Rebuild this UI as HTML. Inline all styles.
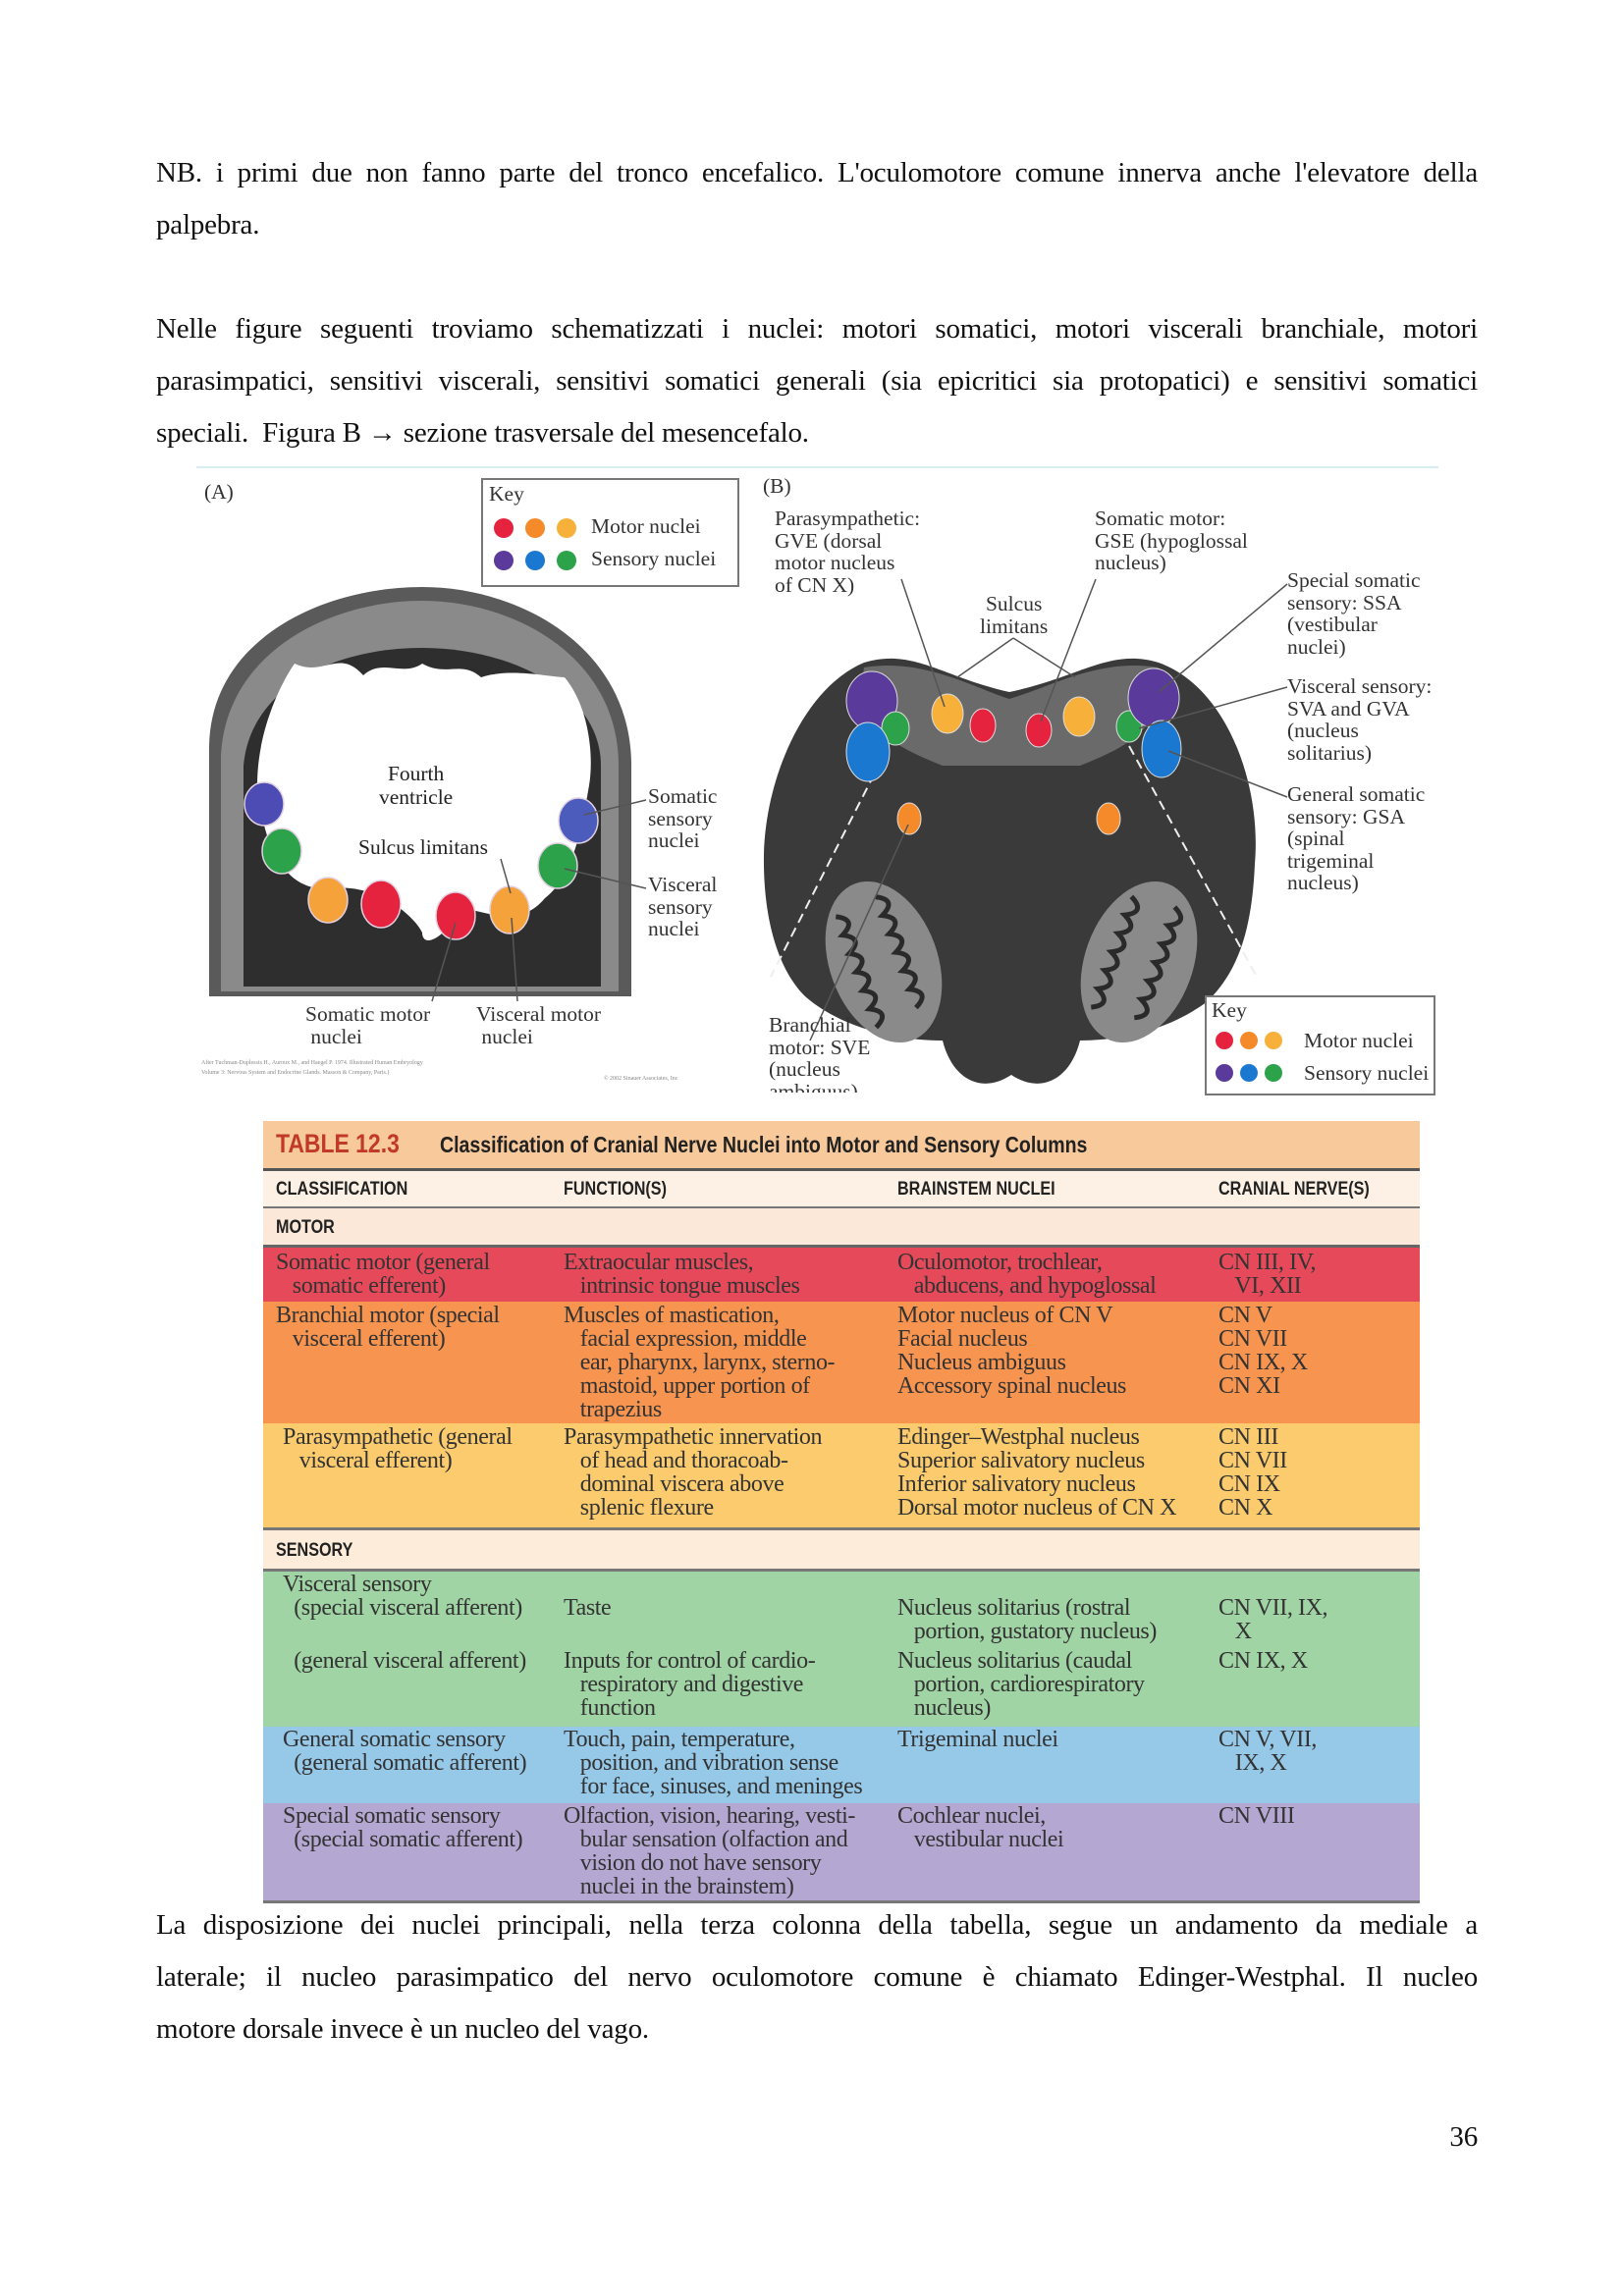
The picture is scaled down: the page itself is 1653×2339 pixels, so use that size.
<!DOCTYPE html>
<html><head><meta charset="utf-8"><style>
body{margin:0;background:#fff}
.pg{position:relative;width:1653px;height:2339px;background:#fff;font-family:"Liberation Serif",serif;color:#111}
.p{position:absolute;left:159px;width:1346px;font-size:29px;line-height:53px;text-align:justify;text-align-last:justify;letter-spacing:-0.2px}
.p.l{text-align-last:left}
.t{position:absolute;font-family:"Liberation Serif",serif;font-size:21.5px;line-height:22.5px;color:#333;white-space:nowrap}
.tb{position:absolute;left:268px;width:1178px}
.row{position:absolute;left:0;width:1178px}
.c{position:absolute;font-size:24px;line-height:24px;color:#333;white-space:pre;font-family:"Liberation Serif",serif;letter-spacing:-0.4px}
.h{position:absolute;font-family:"Liberation Sans",sans-serif;font-weight:bold;font-size:19px;color:#222;transform:scaleX(0.85);transform-origin:left}
</style></head><body><div class="pg">
<div class="p" style="top:150px">NB. i primi due non fanno parte del tronco encefalico. L'oculomotore comune innerva anche l'elevatore della</div>
<div class="p l" style="top:203px">palpebra.</div>
<div class="p" style="top:309px">Nelle figure seguenti troviamo schematizzati i nuclei: motori somatici, motori viscerali branchiale, motori</div>
<div class="p" style="top:362px">parasimpatici, sensitivi viscerali, sensitivi somatici generali (sia epicritici sia protopatici) e sensitivi somatici</div>
<div class="p l" style="top:415px">speciali.&nbsp; Figura B → sezione trasversale del mesencefalo.</div>

<svg style="position:absolute;left:0;top:0" width="1653" height="1140">
<line x1="200" y1="476" x2="1465" y2="476" stroke="#d8eeee" stroke-width="2"/>
<!-- Fig A -->
<path d="M213,1015 L213,760 C215,650 330,598 430,598 C530,598 643,660 643,780 L643,1015 Z" fill="#5a5a5a"/>
<path d="M225,1010 L225,770 C230,665 335,612 430,612 C525,612 630,670 630,780 L630,1010 Z" fill="#8a8a8a"/>
<path d="M248,1005 L248,780 C255,700 340,660 430,660 C520,660 612,705 612,780 L612,1005 Z" fill="#2e2e2e"/>
<path d="M262,800 C262,740 290,690 300,676 C330,690 345,660 370,688 C390,670 410,690 430,676 C455,690 470,672 490,690 C520,680 560,690 575,690 C600,720 605,770 600,800 C590,860 580,895 555,915 C530,945 500,930 470,925 C450,960 430,965 430,950 C420,930 380,900 340,905 C300,910 270,880 262,800 Z" fill="#fff"/>
<g stroke="#e0d0e0" stroke-width="1.5">
<ellipse cx="269" cy="819" rx="20" ry="22" fill="#4c4cb4"/>
<ellipse cx="287" cy="867" rx="20" ry="23" fill="#2ca24a"/>
<ellipse cx="334" cy="917" rx="20" ry="23" fill="#f5a23a"/>
<ellipse cx="388" cy="921" rx="20" ry="24" fill="#e6233f"/>
<ellipse cx="464" cy="933" rx="20" ry="24" fill="#e6233f"/>
<ellipse cx="519" cy="927" rx="20" ry="24" fill="#f5a23a"/>
<ellipse cx="568" cy="882" rx="20" ry="23" fill="#2ca24a"/>
<ellipse cx="589" cy="836" rx="20" ry="23" fill="#4c5cbc"/>
</g>
<g stroke="#555" stroke-width="1.5" fill="none">
<line x1="595" y1="830" x2="658" y2="815"/><line x1="575" y1="885" x2="658" y2="905"/>
<line x1="510" y1="875" x2="520" y2="910"/><line x1="440" y1="1020" x2="464" y2="940"/>
<line x1="527" y1="1020" x2="521" y2="935"/>
</g>
<rect x="491" y="488" width="261" height="109" fill="#fff" stroke="#777" stroke-width="2"/>
<g stroke="none">
<circle cx="513" cy="538" r="10" fill="#e6233f"/><circle cx="545" cy="538" r="10" fill="#f58a2a"/><circle cx="577" cy="538" r="10" fill="#f7b13a"/>
<circle cx="513" cy="571" r="10" fill="#5a3a9a"/><circle cx="545" cy="571" r="10" fill="#1a78d0"/><circle cx="577" cy="571" r="10" fill="#2ca24a"/>
</g>
<!-- Fig B -->
<path d="M880,675 C930,660 960,690 1028,705 C1100,690 1130,660 1180,675 C1250,700 1285,800 1278,880 C1275,950 1260,990 1230,1020 C1190,1050 1140,1060 1100,1060 C1090,1100 1060,1115 1030,1095 C1000,1115 970,1100 960,1060 C920,1060 860,1050 820,1015 C790,985 777,930 778,870 C780,790 820,700 880,675 Z" fill="#3a3a3a"/>
<path d="M880,680 C940,670 990,700 1028,712 C1070,700 1120,670 1180,680 C1190,740 1150,760 1100,780 L960,780 C910,760 870,740 880,680 Z" fill="#6a6a6a"/>
<g transform="rotate(-20 900 980)"><ellipse cx="900" cy="980" rx="55" ry="85" fill="#8a8a8a"/>
<g stroke="#2a2a2a" stroke-width="5" fill="none"><path d="M870,920 q20,10 0,20 q20,10 0,20 q20,10 0,20 q20,10 0,20 q20,10 0,20 q20,10 0,20"/><path d="M915,915 q20,10 0,20 q20,10 0,20 q20,10 0,20 q20,10 0,20 q20,10 0,20 q20,10 0,20"/></g></g>
<g transform="rotate(20 1160 980)"><ellipse cx="1160" cy="980" rx="55" ry="85" fill="#8a8a8a"/>
<g stroke="#2a2a2a" stroke-width="5" fill="none"><path d="M1130,920 q20,10 0,20 q20,10 0,20 q20,10 0,20 q20,10 0,20 q20,10 0,20 q20,10 0,20"/><path d="M1175,915 q20,10 0,20 q20,10 0,20 q20,10 0,20 q20,10 0,20 q20,10 0,20 q20,10 0,20"/></g></g>
<g stroke="#eee" stroke-width="2" stroke-dasharray="10,6" fill="none">
<line x1="905" y1="760" x2="785" y2="995"/><line x1="1150" y1="760" x2="1280" y2="995"/>
</g>
<g stroke="#ddd" stroke-width="1">
<ellipse cx="888" cy="714" rx="26" ry="30" fill="#5a3a9a"/>
<ellipse cx="912" cy="742" rx="14" ry="17" fill="#2ca24a"/>
<ellipse cx="884" cy="766" rx="22" ry="30" fill="#1a78d0"/>
<ellipse cx="965" cy="727" rx="16" ry="20" fill="#f7b13a"/>
<ellipse cx="1001" cy="739" rx="13" ry="17" fill="#e6233f"/>
<ellipse cx="1058" cy="744" rx="13" ry="17" fill="#e6233f"/>
<ellipse cx="1099" cy="730" rx="16" ry="20" fill="#f7b13a"/>
<ellipse cx="1150" cy="740" rx="13" ry="16" fill="#2ca24a"/>
<ellipse cx="1175" cy="711" rx="26" ry="30" fill="#5a3a9a"/>
<ellipse cx="1183" cy="763" rx="20" ry="29" fill="#1a78d0"/>
<ellipse cx="926" cy="834" rx="12" ry="16" fill="#f58a2a"/>
<ellipse cx="1129" cy="834" rx="12" ry="16" fill="#f58a2a"/>
</g>
<g stroke="#555" stroke-width="1.5" fill="none">
<line x1="918" y1="590" x2="962" y2="720"/><line x1="1116" y1="590" x2="1060" y2="735"/>
<line x1="1032" y1="650" x2="975" y2="690"/><line x1="1032" y1="650" x2="1095" y2="690"/>
<line x1="1311" y1="595" x2="1180" y2="705"/><line x1="1311" y1="700" x2="1160" y2="742"/>
<line x1="1311" y1="812" x2="1190" y2="765"/><line x1="825" y1="1060" x2="925" y2="840"/>
</g>
<rect x="1228" y="1015" width="233" height="100" fill="#fff" stroke="#777" stroke-width="2"/>
<circle cx="1247" cy="1060" r="9" fill="#e6233f"/><circle cx="1272" cy="1060" r="9" fill="#f58a2a"/><circle cx="1297" cy="1060" r="9" fill="#f7b13a"/>
<circle cx="1247" cy="1093" r="9" fill="#5a3a9a"/><circle cx="1272" cy="1093" r="9" fill="#1a78d0"/><circle cx="1297" cy="1093" r="9" fill="#2ca24a"/>
</svg>
<div class="t" style="left:208px;top:490px">(A)</div>
<div class="t" style="left:498px;top:492px">Key</div>
<div class="t" style="left:602px;top:525px">Motor nuclei</div>
<div class="t" style="left:602px;top:558px">Sensory nuclei</div>
<div class="t" style="left:386px;top:776px;line-height:24px;text-align:center;color:#222">Fourth<br>ventricle</div>
<div class="t" style="left:365px;top:852px;color:#222">Sulcus limitans</div>
<div class="t" style="left:660px;top:800px">Somatic<br>sensory<br>nuclei</div>
<div class="t" style="left:660px;top:890px">Visceral<br>sensory<br>nuclei</div>
<div class="t" style="left:311px;top:1022px">Somatic motor<br>&nbsp;nuclei</div>
<div class="t" style="left:485px;top:1022px">Visceral motor<br>&nbsp;nuclei</div>
<div class="t" style="left:205px;top:1078px;font-size:6px;line-height:10px;color:#888">After Tuchman-Duplessis H., Auroux M., and Haegel P. 1974. Illustrated Human Embryology<br>Volume 3: Nervous System and Endocrine Glands. Masson &amp; Company, Paris.)</div>
<div class="t" style="left:615px;top:1088px;font-size:6px;color:#888">© 2002 Sinauer Associates, Inc</div>
<div class="t" style="left:777px;top:484px">(B)</div>
<div class="t" style="left:789px;top:517px">Parasympathetic:<br>GVE (dorsal<br>motor nucleus<br>of CN X)</div>
<div class="t" style="left:1115px;top:517px">Somatic motor:<br>GSE (hypoglossal<br>nucleus)</div>
<div class="t" style="left:998px;top:604px;text-align:center">Sulcus<br>limitans</div>
<div class="t" style="left:1311px;top:580px">Special somatic<br>sensory: SSA<br>(vestibular<br>nuclei)</div>
<div class="t" style="left:1311px;top:688px">Visceral sensory:<br>SVA and GVA<br>(nucleus<br>solitarius)</div>
<div class="t" style="left:1311px;top:798px">General somatic<br>sensory: GSA<br>(spinal<br>trigeminal<br>nucleus)</div>
<div class="t" style="left:783px;top:1033px;height:80px;overflow:hidden">Branchial<br>motor: SVE<br>(nucleus<br>ambiguus)</div>
<div class="t" style="left:1234px;top:1018px">Key</div>
<div class="t" style="left:1328px;top:1049px">Motor nuclei</div>
<div class="t" style="left:1328px;top:1082px">Sensory nuclei</div>

<div class="tb" style="top:1142px;height:797px">
<div class="row" style="top:0;height:48px;background:#f8c99a;border-bottom:3px solid #555"></div>
<div class="h" style="left:13px;top:8px;font-size:27px;color:#c0392b">TABLE 12.3</div>
<div class="h" style="left:180px;top:11px;font-size:23px">Classification of Cranial Nerve Nuclei into Motor and Sensory Columns</div>
<div class="row" style="top:51px;height:36px;background:#fdf1e5;border-bottom:2px solid #777"></div>
<div class="h" style="left:13px;top:59px">CLASSIFICATION</div>
<div class="h" style="left:306px;top:59px">FUNCTION(S)</div>
<div class="h" style="left:646px;top:59px">BRAINSTEM NUCLEI</div>
<div class="h" style="left:973px;top:59px">CRANIAL NERVE(S)</div>
<div class="row" style="top:89px;height:37px;background:#fbe8d8;border-bottom:3px solid #666"></div>
<div class="h" style="left:13px;top:98px">MOTOR</div>
<div class="row" style="top:129px;height:55px;background:#e64a5a"></div>
<div class="c" style="left:13px;top:132px">Somatic motor (general
   somatic efferent)</div>
<div class="c" style="left:306px;top:132px">Extraocular muscles,
   intrinsic tongue muscles</div>
<div class="c" style="left:646px;top:132px">Oculomotor, trochlear,
   abducens, and hypoglossal</div>
<div class="c" style="left:973px;top:132px">CN III, IV,
   VI, XII</div>
<div class="row" style="top:184px;height:124px;background:#f7944f"></div>
<div class="c" style="left:13px;top:186px">Branchial motor (special
   visceral efferent)</div>
<div class="c" style="left:306px;top:186px">Muscles of mastication,
   facial expression, middle
   ear, pharynx, larynx, sterno-
   mastoid, upper portion of
   trapezius</div>
<div class="c" style="left:646px;top:186px">Motor nucleus of CN V
Facial nucleus
Nucleus ambiguus
Accessory spinal nucleus</div>
<div class="c" style="left:973px;top:186px">CN V
CN VII
CN IX, X
CN XI</div>
<div class="row" style="top:308px;height:106px;background:#fbcb6e;border-bottom:3px solid #777"></div>
<div class="c" style="left:20px;top:310px">Parasympathetic (general
   visceral efferent)</div>
<div class="c" style="left:306px;top:310px">Parasympathetic innervation
   of head and thoracoab-
   dominal viscera above
   splenic flexure</div>
<div class="c" style="left:646px;top:310px">Edinger–Westphal nucleus
Superior salivatory nucleus
Inferior salivatory nucleus
Dorsal motor nucleus of CN X</div>
<div class="c" style="left:973px;top:310px">CN III
CN VII
CN IX
CN X</div>
<div class="row" style="top:417px;height:39px;background:#fdecda;border-bottom:3px solid #777"></div>
<div class="h" style="left:13px;top:427px">SENSORY</div>
<div class="row" style="top:459px;height:158px;background:#a0d4a4"></div>
<div class="c" style="left:20px;top:460px">Visceral sensory
  (special visceral afferent)</div>
<div class="c" style="left:306px;top:484px">Taste</div>
<div class="c" style="left:646px;top:484px">Nucleus solitarius (rostral
   portion, gustatory nucleus)</div>
<div class="c" style="left:973px;top:484px">CN VII, IX,
   X</div>
<div class="c" style="left:20px;top:538px">  (general visceral afferent)</div>
<div class="c" style="left:306px;top:538px">Inputs for control of cardio-
   respiratory and digestive
   function</div>
<div class="c" style="left:646px;top:538px">Nucleus solitarius (caudal
   portion, cardiorespiratory
   nucleus)</div>
<div class="c" style="left:973px;top:538px">CN IX, X</div>
<div class="row" style="top:617px;height:78px;background:#96c8e8"></div>
<div class="c" style="left:20px;top:618px">General somatic sensory
  (general somatic afferent)</div>
<div class="c" style="left:306px;top:618px">Touch, pain, temperature,
   position, and vibration sense
   for face, sinuses, and meninges</div>
<div class="c" style="left:646px;top:618px">Trigeminal nuclei</div>
<div class="c" style="left:973px;top:618px">CN V, VII,
   IX, X</div>
<div class="row" style="top:695px;height:99px;background:#b4a8d2;border-bottom:3px solid #777"></div>
<div class="c" style="left:20px;top:696px">Special somatic sensory
  (special somatic afferent)</div>
<div class="c" style="left:306px;top:696px">Olfaction, vision, hearing, vesti-
   bular sensation (olfaction and
   vision do not have sensory
   nuclei in the brainstem)</div>
<div class="c" style="left:646px;top:696px">Cochlear nuclei,
   vestibular nuclei</div>
<div class="c" style="left:973px;top:696px">CN VIII</div>
</div>

<div class="p" style="top:1935px">La disposizione dei nuclei principali, nella terza colonna della tabella, segue un andamento da mediale a</div>
<div class="p" style="top:1988px">laterale; il nucleo parasimpatico del nervo oculomotore comune è chiamato Edinger-Westphal. Il nucleo</div>
<div class="p l" style="top:2041px">motore dorsale invece è un nucleo del vago.</div>
<div class="p l" style="top:2151px;text-align:right;text-align-last:right">36</div>
</div></body></html>
